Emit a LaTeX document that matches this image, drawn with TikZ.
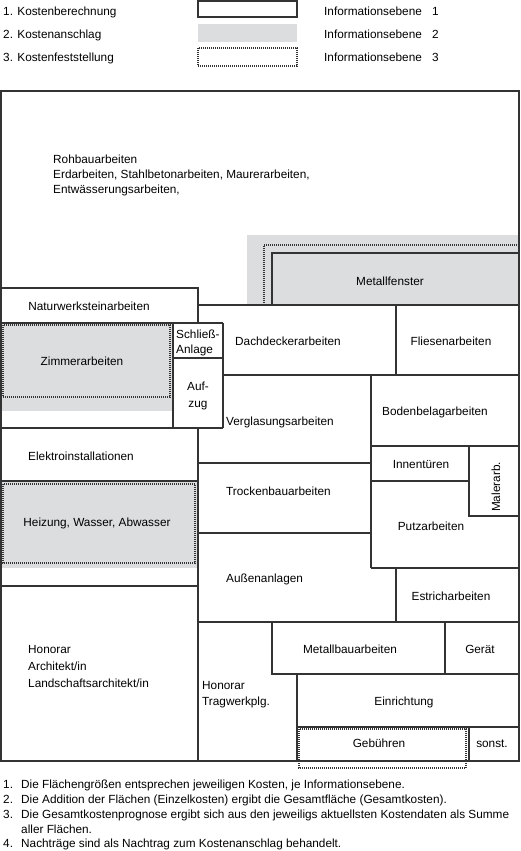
\documentclass[tikz,border=0pt]{standalone}
\usepackage{fontspec}
\setmainfont{Liberation Sans}
\begin{document}
\begin{tikzpicture}[x = 1pt, y = -1pt,
  line/.style = {draw = linegray, line width = 1.2pt},
  dots/.style = {draw = linegray, line width = 1.1pt, dash pattern = on 1pt off 1pt},
  lbl/.style = {inner sep = 0, font = \fontsize{11.8}{14}\selectfont}]
\definecolor{linegray}{rgb}{0.2,0.2,0.2}
\definecolor{areagray}{RGB}{220,221,223}
\useasboundingbox (0,0) rectangle (520,851);
% legend
\foreach \t [count = \i] in {Kostenberechnung, Kostenanschlag, Kostenfeststellung} {
  \node[lbl, anchor = base west] (cost\i) at (3,-7+23*\i) {\i. \t};
  \node[lbl, anchor = base west] (level\i) at (324,-7+23*\i) {Informationsebene};
  \node[lbl, anchor = base west] (levelno\i) at (432,-7+23*\i) {\i};
}
\draw[line] (198,1) rectangle (297,17);
\fill[areagray] (198,24) rectangle (297,42);
\draw[dots] (198,48) rectangle (297,66);
% grey areas
\fill[areagray] (247,235) rectangle (519,305);
\fill[areagray] (1,323) rectangle (173,411);
\fill[areagray] (1,481) rectangle (198,568);
% dotted frames
\draw[dots] (264,305) -- (264,245) -- (519,245);
\draw[dots] (3,325) rectangle (170,397);
\draw[dots] (3,484) rectangle (195,563);
\draw[dots] (299,729) rectangle (466,768);
% area borders
\draw[line] (1,91) rectangle (519,761);
\draw[line] (272,305) -- (272,253) -- (519,253);
\draw[line] (1,288) -- (198,288) -- (198,323);
\draw[line] (198,305) -- (519,305);
\draw[line] (1,323) -- (223,323);
\draw[line] (173,323) -- (173,428);
\draw[line] (223,323) -- (223,428);
\draw[line] (173,358) -- (223,358);
\draw[line] (1,428) -- (223,428);
\draw[line] (198,428) -- (198,761);
\draw[line] (223,375) -- (519,375);
\draw[line] (396,305) -- (396,375);
\draw[line] (371,375) -- (371,568);
\draw[line] (371,446) -- (519,446);
\draw[line] (469,446) -- (469,516) -- (519,516);
\draw[line] (371,481) -- (469,481);
\draw[line] (371,568) -- (519,568);
\draw[line] (198,463) -- (371,463);
\draw[line] (198,533) -- (371,533);
\draw[line] (1,481) -- (198,481);
\draw[line] (1,586) -- (198,586);
\draw[line] (396,568) -- (396,622);
\draw[line] (198,622) -- (519,622);
\draw[line] (272,622) -- (272,674) -- (519,674);
\draw[line] (445,622) -- (445,674);
\draw[line] (297,674) -- (297,761);
\draw[line] (297,727) -- (519,727);
\draw[line] (469,727) -- (469,761);
% labels
\foreach \t [count = \i] in {Rohbauarbeiten, {Erdarbeiten, Stahlbetonarbeiten, Maurerarbeiten,}, {Entwässerungsarbeiten,}}
  \node[lbl, anchor = base west] (rohbau\i) at (53,148+15*\i) {\t};
\node[lbl, anchor = base] (metallfenster) at (390,285) {Metallfenster};
\node[lbl, anchor = base] (naturstein) at (89,310) {Naturwerksteinarbeiten};
\node[lbl, anchor = base] (zimmer) at (82,365) {Zimmerarbeiten};
\node[lbl, anchor = base west] (schliess1) at (176,338) {Schließ-};
\node[lbl, anchor = base west] (schliess2) at (176,353) {Anlage};
\node[lbl, anchor = base] (aufzug1) at (198,390) {Auf-};
\node[lbl, anchor = base] (aufzug2) at (198,407) {zug};
\node[lbl, anchor = base west] (dachdecker) at (235,345) {Dachdeckerarbeiten};
\node[lbl, anchor = base] (fliesen) at (451,345) {Fliesenarbeiten};
\node[lbl, anchor = base west] (verglasung) at (226,425) {Verglasungsarbeiten};
\node[lbl, anchor = base] (bodenbelag) at (435,415) {Bodenbelagarbeiten};
\node[lbl, anchor = base] (innentueren) at (421,468) {Innentüren};
\node[lbl, rotate = 90] (maler) at (496,487) {Malerarb.};
\node[lbl, anchor = base] (putz) at (431,530) {Putzarbeiten};
\node[lbl, anchor = base west] (trockenbau) at (226,495) {Trockenbauarbeiten};
\node[lbl, anchor = base west] (elektro) at (28,460) {Elektroinstallationen};
\node[lbl, anchor = base] (heizung) at (97,526) {Heizung, Wasser, Abwasser};
\node[lbl, anchor = base west] (aussen) at (226,582) {Außenanlagen};
\node[lbl, anchor = base] (estrich) at (451,600) {Estricharbeiten};
\foreach \t [count = \i] in {Honorar, Architekt/in, Landschaftsarchitekt/in}
  \node[lbl, anchor = base west] (architekt\i) at (28,636+17*\i) {\t};
\node[lbl, anchor = base west] (tragwerk1) at (202,689) {Honorar};
\node[lbl, anchor = base west] (tragwerk2) at (202,705) {Tragwerkplg.};
\node[lbl, anchor = base] (metallbau) at (350,653) {Metallbauarbeiten};
\node[lbl, anchor = base] (geraet) at (480,653) {Gerät};
\node[lbl, anchor = base] (einrichtung) at (404,705) {Einrichtung};
\node[lbl, anchor = base] (gebuehren) at (379,747) {Gebühren};
\node[lbl, anchor = base] (sonst) at (492,747) {sonst.};
% notes
\node[lbl, anchor = base west] (noteno1) at (3,788) {1.};
\node[lbl, anchor = base west] (note1) at (21,788) {Die Flächengrößen entsprechen jeweiligen Kosten, je Informationsebene.};
\node[lbl, anchor = base west] (noteno2) at (3,803) {2.};
\node[lbl, anchor = base west] (note2) at (21,803) {Die Addition der Flächen (Einzelkosten) ergibt die Gesamtfläche (Gesamtkosten).};
\node[lbl, anchor = base west] (noteno3) at (3,818) {3.};
\node[lbl, anchor = base west] (note3) at (21,818) {Die Gesamtkostenprognose ergibt sich aus den jeweiligs aktuellsten Kostendaten als Summe};
\node[lbl, anchor = base west] (note3b) at (21,833) {aller Flächen.};
\node[lbl, anchor = base west] (noteno4) at (3,847) {4.};
\node[lbl, anchor = base west] (note4) at (21,847) {Nachträge sind als Nachtrag zum Kostenanschlag behandelt.};
\end{tikzpicture}
\end{document}
